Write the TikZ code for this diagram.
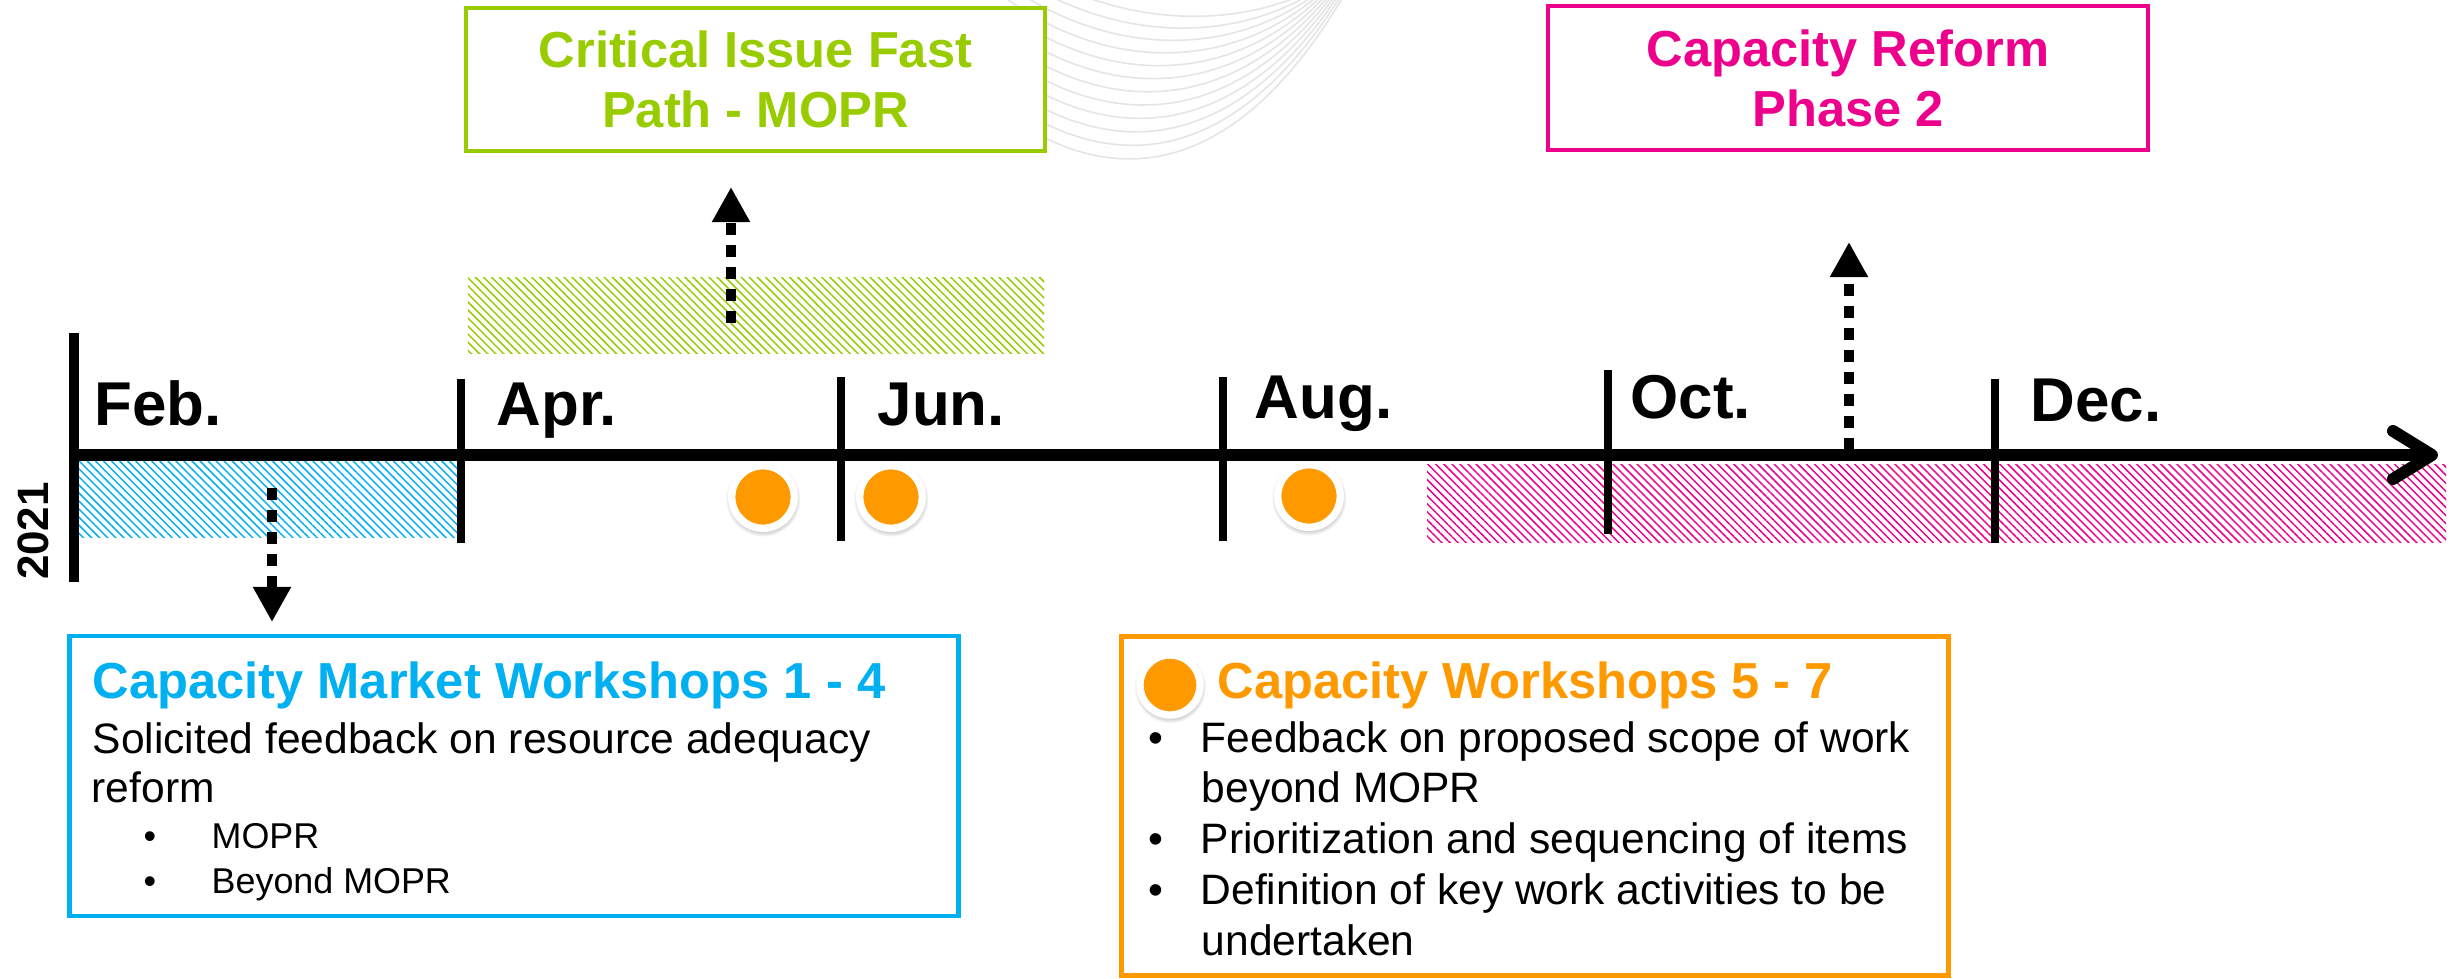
\documentclass[tikz,border=0pt]{standalone}
\usepackage{fontspec}
\setmainfont{Liberation Sans}
\usetikzlibrary{patterns.meta,arrows.meta,shadows}
\definecolor{cblue}{HTML}{00B0F0}
\definecolor{cgreen}{HTML}{99CC00}
\definecolor{cpink}{HTML}{EC008C}
\definecolor{corange}{HTML}{FF9900}
\newcommand{\monthfont}{\fontsize{17.6}{20}\selectfont\bfseries}
\newcommand{\titlefont}{\fontsize{14.4}{17.1}\selectfont\bfseries}
\newcommand{\bodyfont}{\fontsize{12.1}{14.2}\selectfont}
\newcommand{\subfont}{\fontsize{10.2}{12.5}\selectfont}
\begin{document}
\begin{tikzpicture}[x=0.01cm,y=-0.01cm,
  wave/.style={draw=black!10, line width=0.45pt},
  tbox/.style={rectangle, fill=white, line width=1.3pt, inner sep=0pt, outer sep=0pt, align=center, font=\titlefont},
  infobox/.style={rectangle, fill=white, line width=1.3pt, inner sep=0pt, outer sep=0pt},
  hatch/.style={pattern={Lines[angle=-45,distance=1.62pt,line width=0.42pt]}},
  axisline/.style={line width=3.4pt},
  vline/.style={line width=2.8pt},
  tick/.style={line width=2.3pt},
  month/.style={anchor=base west, inner sep=0pt, font=\monthfont},
  lbl/.style={anchor=base west, inner sep=0pt},
  darrow/.style={line width=2.6pt, dash pattern=on 3.4pt off 2.85pt, -{Triangle[length=10pt,width=10.2pt]}},
  dot/.style={circle, fill=corange, draw=white, line width=2.1pt, minimum size=0.625cm, inner sep=0pt, outer sep=0pt,
    circular drop shadow={shadow scale=1.2, shadow xshift=0pt, shadow yshift=-0.5pt, opacity=0.4}}
]
\useasboundingbox (0,0) rectangle (2450,978);
\fill[white] (0,0) rectangle (2450,978);

% background wave lines
\foreach \i in {0,...,11}{
  \pgfmathsetmacro\m{161-14.5*(11-\i)}
  \pgfmathsetmacro\e{1350-2.5*(11-\i)}
  \draw[wave] (1000,\m-51) .. controls (1100,\m+24) and (1230,\m+34) .. (\e,-15);
}

% top boxes
\node[tbox, draw=cgreen, text=cgreen, minimum width=5.79cm, minimum height=1.43cm] (fast) at (755.5,79.5) {Critical Issue Fast\\Path - MOPR};
\node[tbox, draw=cpink, text=cpink, minimum width=6.00cm, minimum height=1.44cm] (phase) at (1848,78) {Capacity Reform\\Phase 2};

% hatched bars
\path[hatch, pattern color=cgreen] (468,277) rectangle (1044,353);
\path[hatch, pattern color=cblue] (76,461) rectangle (459,537);
\path[hatch, pattern color=cpink] (1427,464) rectangle (2446,542);

% axis
\coordinate (axL) at (74,455);
\coordinate (axR) at (2432,455);
\coordinate (chT) at (2393,431);
\coordinate (chB) at (2393,479);
\draw[axisline] (axL) -- (axR);
\draw[axisline, line join=round, line cap=round] (chT) -- (axR) -- (chB);
\draw[vline] (74,333) -- (74,582);
\foreach \x/\a/\b in {461/379/543, 841/377/541, 1223/377/541, 1608/370/534, 1995/379/543}
  \draw[tick] (\x,\a) -- (\x,\b);

% month labels
\node[month] (feb) at (94,425) {Feb.};
\node[month] (apr) at (496,425) {Apr.};
\node[month] (jun) at (877,425) {Jun.};
\node[month] (aug) at (1254,418) {Aug.};
\node[month] (oct) at (1630,418) {Oct.};
\node[month] (dec) at (2030,421) {Dec.};
\node[rotate=90, inner sep=0pt, font=\fontsize{12.5}{15}\selectfont\bfseries] (year) at (33,531) {2021};

% dashed arrows
\coordinate (gS) at (731,323); \coordinate (gE) at (731,187);
\coordinate (bS) at (272,488); \coordinate (bE) at (272,622);
\coordinate (pS) at (1849,450); \coordinate (pE) at (1849,242);
\draw[darrow] (gS) -- (gE);
\draw[darrow] (bS) -- (bE);
\draw[darrow] (pS) -- (pE);

% workshop dots
\node[dot] (w1) at (763,497) {};
\node[dot] (w2) at (891,497) {};
\node[dot] (w3) at (1309,496) {};

% lower boxes
\node[infobox, draw=cblue, minimum width=8.88cm, minimum height=2.80cm] (cmw) at (514,776) {};
\node[infobox, draw=corange, minimum width=8.26cm, minimum height=3.39cm] (cw) at (1535,806) {};

\node[lbl, font=\titlefont, text=cblue] (t1) at (92,698) {Capacity Market Workshops 1 - 4};
\node[lbl, font=\bodyfont] (t1a) at (92,753) {Solicited feedback on resource adequacy};
\node[lbl, font=\bodyfont] (t1b) at (91,802) {reform};
\node[lbl, font=\subfont] (b1) at (143,848) {•};
\node[lbl, font=\subfont] (t1c) at (211,848) {MOPR};
\node[lbl, font=\subfont] (b2) at (143,893) {•};
\node[lbl, font=\subfont] (t1d) at (211,893) {Beyond MOPR};

\node[dot, minimum size=0.6cm] (w4) at (1170,685) {};
\node[lbl, font=\titlefont, text=corange] (t2) at (1217,698) {Capacity Workshops 5 - 7};
\node[lbl, font=\bodyfont] (b3) at (1148,752) {•};
\node[lbl, font=\bodyfont] (t2a) at (1200,752) {Feedback on proposed scope of work};
\node[lbl, font=\bodyfont] (t2b) at (1201,802) {beyond MOPR};
\node[lbl, font=\bodyfont] (b4) at (1148,853) {•};
\node[lbl, font=\bodyfont] (t2c) at (1200,853) {Prioritization and sequencing of items};
\node[lbl, font=\bodyfont] (b5) at (1148,904) {•};
\node[lbl, font=\bodyfont] (t2d) at (1200,904) {Definition of key work activities to be};
\node[lbl, font=\bodyfont] (t2e) at (1201,955) {undertaken};
\end{tikzpicture}
\end{document}
